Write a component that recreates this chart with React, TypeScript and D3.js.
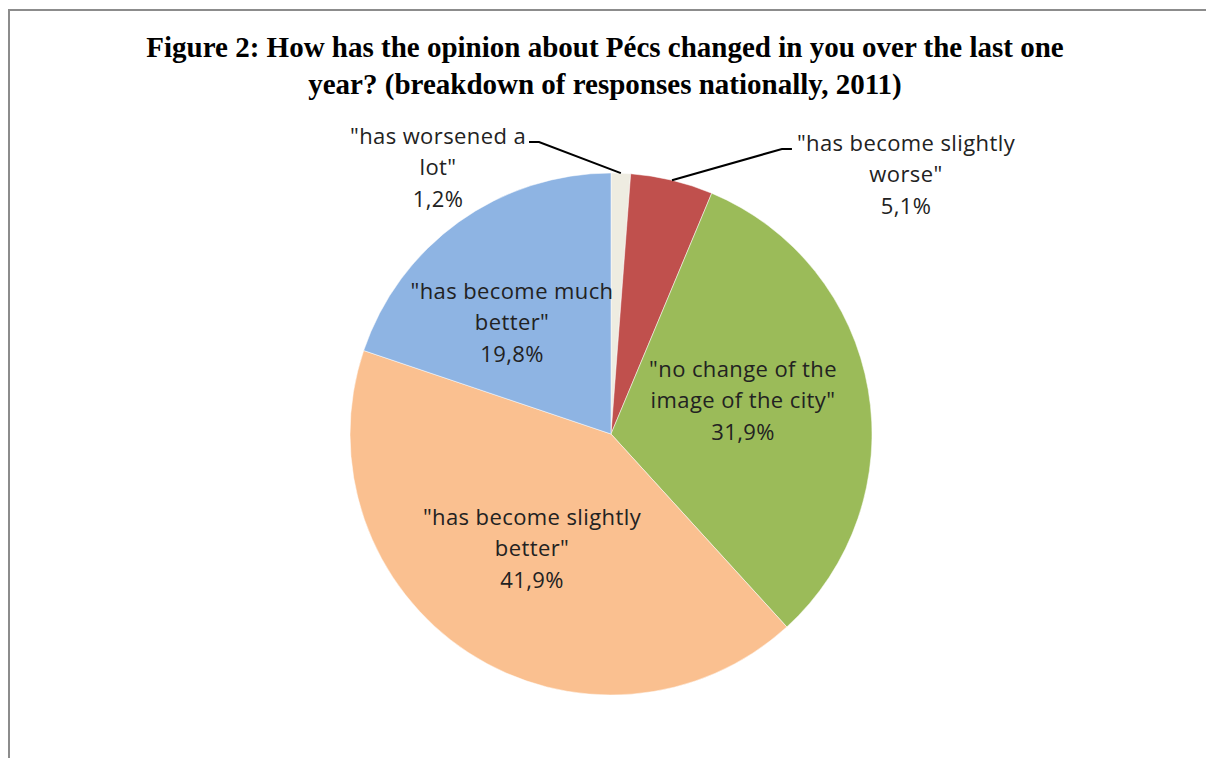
import { useEffect, useRef } from "react";
import * as d3 from "d3";

const categories = [
  "\"has worsened a lot\"",
  "\"has become slightly worse\"",
  "\"no change of the image of the city\"",
  "\"has become slightly better\"",
  "\"has become much better\"",
];
const labelLines = [
  ["\"has worsened a", "lot\""],
  ["\"has become slightly", "worse\""],
  ["\"no change of the", "image of the city\""],
  ["\"has become slightly", "better\""],
  ["\"has become much", "better\""],
];
const values = [1.2, 5.1, 31.9, 41.9, 19.8];
const colors = ["#EEECE1", "#C0504D", "#9BBB59", "#FAC090", "#8EB4E3"];
const titleLines = [
  "Figure 2: How has the opinion about Pécs changed in you over the last one",
  "year? (breakdown of responses nationally, 2011)",
];

const W = 1206;
const H = 758;
const cx = 611;
const cy = 434;
const radius = 261;
const lineH = 31.5;

// label block offsets from the pie centre (middle line baseline), and leader side
const labelLayout = [
  { dx: -173, dy: -259, leader: "left" },
  { dx: 295, dy: -252, leader: "right" },
  { dx: 132, dy: -26, leader: null },
  { dx: -79, dy: 122, leader: null },
  { dx: -99, dy: -104, leader: null },
];

export default function App() {
  const svgRef = useRef<SVGSVGElement>(null);

  useEffect(() => {
    if (!svgRef.current) return;
    const svg = d3.select(svgRef.current);
    svg.selectAll("*").remove();

    svg.append("rect").attr("width", W).attr("height", H).attr("fill", "#fff");

    // frame
    svg
      .append("path")
      .attr("d", `M9,${H} L9,10 L${W},10`)
      .attr("fill", "none")
      .attr("stroke", "#8c8c8c")
      .attr("stroke-width", 2);

    // title
    svg
      .append("g")
      .selectAll("text")
      .data(titleLines)
      .join("text")
      .attr("x", 605)
      .attr("y", (_, i) => 57 + i * 37)
      .attr("text-anchor", "middle")
      .attr("font-family", "'Liberation Serif', 'Times New Roman', serif")
      .attr("font-weight", "bold")
      .attr("font-size", 29)
      .attr("fill", "#000")
      .text((d) => d);

    const pie = d3
      .pie<number>()
      .sort(null)
      .value((d) => d);
    const arcs = pie(values);
    const arc = d3.arc<d3.PieArcDatum<number>>().innerRadius(0).outerRadius(radius);

    const g = svg.append("g").attr("transform", `translate(${cx},${cy})`);
    g.selectAll("path")
      .data(arcs)
      .join("path")
      .attr("d", arc)
      .attr("fill", (_, i) => colors[i])
      .attr("stroke", "#fff")
      .attr("stroke-width", 0.5);

    const leaders = g.append("g");

    // labels
    arcs.forEach((a, i) => {
      const lay = labelLayout[i];
      const lines = [...labelLines[i], `${values[i].toFixed(1).replace(".", ",")}%`];
      const t = g
        .append("text")
        .attr("text-anchor", "middle")
        .attr("font-family", "'Open Sans', sans-serif")
        .attr("font-size", 22)
        .attr("letter-spacing", 0.4)
        .attr("fill", "#222");
      const spans = lines.map((ln, k) =>
        t
          .append("tspan")
          .attr("x", lay.dx)
          .attr("y", lay.dy + (k - 1) * lineH)
          .text(ln)
      );

      if (!lay.leader) return;
      const w = (spans[0].node() as SVGTSpanElement).getComputedTextLength();
      const mid = (a.startAngle + a.endAngle) / 2;
      const px = Math.sin(mid) * radius;
      const py = -Math.cos(mid) * radius;
      const ly = lay.dy - 33;
      const textEdge = lay.leader === "left" ? lay.dx + w / 2 + 3 : lay.dx - w / 2 - 5;
      const elbow = lay.leader === "left" ? textEdge + 10 : textEdge - 10;
      leaders
        .append("path")
        .attr("d", `M${px},${py} L${elbow},${ly} L${textEdge},${ly}`)
        .attr("fill", "none")
        .attr("stroke", "#000")
        .attr("stroke-width", 2);
    });
  }, []);

  return (
    <svg
      ref={svgRef}
      width={W}
      height={H}
      style={{ position: "absolute", left: 0, top: 0, display: "block" }}
    >
      <title>{categories.join(", ")}</title>
    </svg>
  );
}
